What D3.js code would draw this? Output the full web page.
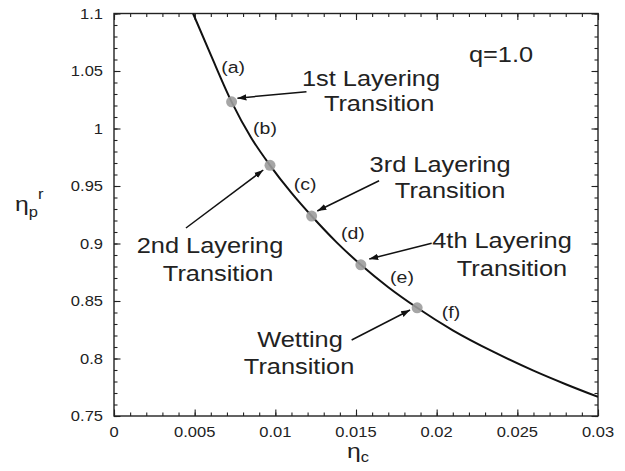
<!DOCTYPE html>
<html>
<head>
<meta charset="utf-8">
<script src="https://cdn.jsdelivr.net/npm/d3@7"></script>
<style>
  body { margin: 0; background: #fff; }
  text { font-family: "Liberation Sans", Arial, sans-serif; fill: #222; }
</style>
</head>
<body>
<div id="chart"></div>
<script>
// curve
var curveEtaC = [0.0049, 0.006, 0.00729, 0.0085, 0.00967, 0.011, 0.01225, 0.0138, 0.0153, 0.017, 0.01879, 0.021, 0.0235, 0.026, 0.028, 0.03];
var curveEtaP = [1.100, 1.064, 1.0232, 0.992, 0.968, 0.944, 0.9239, 0.901, 0.8815, 0.862, 0.8441, 0.8245, 0.8059, 0.7894, 0.7776, 0.7666];

// transition points
var dotEtaC = [0.00729, 0.00967, 0.01225, 0.0153, 0.01879];
var dotEtaP = [1.0232, 0.968, 0.9239, 0.8815, 0.8441];

// (a)..(f) labels
var letters = ["(a)", "(b)", "(c)", "(d)", "(e)", "(f)"];
var letterEtaC = [0.00738, 0.00936, 0.01184, 0.01481, 0.01785, 0.02089];
var letterEtaP = [1.0483, 0.9952, 0.9465, 0.9039, 0.8657, 0.8352];

// annotation texts (two lines each)
var noteLine1 = ["1st Layering", "2nd Layering", "3rd Layering", "4th Layering", "Wetting"];
var noteLine2 = ["Transition", "Transition", "Transition", "Transition", "Transition"];
var note1EtaC = [0.01593, 0.00595, 0.02021, 0.02405, 0.01153];
var note1EtaP = [1.0370, 0.8917, 0.9622, 0.8961, 0.8103];
var note2EtaC = [0.01643, 0.00645, 0.02083, 0.02467, 0.01147];
var note2EtaP = [1.0152, 0.8674, 0.9396, 0.8720, 0.7865];

// arrows: start -> tip
var arrowFromC = [0.01193, 0.00446, 0.01643, 0.01969, 0.01473];
var arrowFromP = [1.0320, 0.9135, 0.9546, 0.9002, 0.8161];
var arrowToC = [0.00765, 0.00925, 0.01260, 0.01582, 0.01835];
var arrowToP = [1.0264, 0.9639, 0.9283, 0.8865, 0.8422];

var xTicks = [0, 0.005, 0.01, 0.015, 0.02, 0.025, 0.03];
var xTickLabels = ["0", "0.005", "0.01", "0.015", "0.02", "0.025", "0.03"];
var yTicks = [0.75, 0.8, 0.85, 0.9, 0.95, 1, 1.05, 1.1];
var yTickLabels = ["0.75", "0.8", "0.85", "0.9", "0.95", "1", "1.05", "1.1"];

var W = 625, H = 471;
var SX = 1.18; // glyphs are a bit wide in the original

var x = d3.scaleLinear().domain([0, 0.03]).range([114, 598]);
var y = d3.scaleLinear().domain([0.75, 1.1]).range([416, 13.5]);

var svg = d3.select("#chart").append("svg")
  .attr("width", W).attr("height", H);

function wideText(g, str, px, py, size, anchor) {
  return g.append("text")
    .attr("transform", "translate(" + px + "," + py + ") scale(" + SX + ",1)")
    .attr("text-anchor", anchor || "middle")
    .attr("font-size", size)
    .text(str);
}

svg.append("defs").append("marker")
  .attr("id", "head")
  .attr("viewBox", "0 0 10 10")
  .attr("refX", 10).attr("refY", 5)
  .attr("markerWidth", 9).attr("markerHeight", 9)
  .attr("markerUnits", "userSpaceOnUse")
  .attr("orient", "auto")
  .append("path").attr("d", "M0,1.5 L10,5 L0,8.5 z").attr("fill", "#111");

svg.select("defs").append("clipPath").attr("id", "clip")
  .append("rect")
  .attr("x", x(0)).attr("y", y(1.1))
  .attr("width", x(0.03) - x(0)).attr("height", y(0.75) - y(1.1));

// minor ticks
var xMinor = d3.range(0, 31).map(function (i) { return i * 0.001; });
var yMinor = d3.range(0, 36).map(function (i) { return 0.75 + i * 0.01; });

function axisGroup(axis, tx, ty) {
  var g = svg.append("g").attr("transform", "translate(" + tx + "," + ty + ")").call(axis);
  g.select(".domain").remove();
  g.selectAll("text").remove();
  g.selectAll("line").attr("stroke", "#222").attr("stroke-width", 1.1);
  return g;
}
axisGroup(d3.axisBottom(x).tickValues(xMinor).tickSize(-3.5), 0, y(0.75));
axisGroup(d3.axisBottom(x).tickValues(xTicks).tickSize(-6.5), 0, y(0.75));
axisGroup(d3.axisTop(x).tickValues(xMinor).tickSize(-3.5), 0, y(1.1));
axisGroup(d3.axisTop(x).tickValues(xTicks).tickSize(-6.5), 0, y(1.1));
axisGroup(d3.axisLeft(y).tickValues(yMinor).tickSize(-3.5), x(0), 0);
axisGroup(d3.axisLeft(y).tickValues(yTicks).tickSize(-6.5), x(0), 0);
axisGroup(d3.axisRight(y).tickValues(yMinor).tickSize(-3.5), x(0.03), 0);
axisGroup(d3.axisRight(y).tickValues(yTicks).tickSize(-6.5), x(0.03), 0);

svg.append("rect")
  .attr("x", x(0)).attr("y", y(1.1))
  .attr("width", x(0.03) - x(0)).attr("height", y(0.75) - y(1.1))
  .attr("fill", "none").attr("stroke", "#222").attr("stroke-width", 1.4);

// tick labels
xTicks.forEach(function (v, i) {
  wideText(svg, xTickLabels[i], x(v), y(0.75) + 21, 14, "middle");
});
yTicks.forEach(function (v, i) {
  wideText(svg, yTickLabels[i], x(0) - 11, y(v) + 5, 14, "end");
});

// axis titles
var xt = svg.append("text")
  .attr("transform", "translate(" + (x(0.015) - 9) + "," + 458 + ") scale(" + SX + ",1)")
  .attr("font-size", 21);
xt.append("tspan").text("η");
xt.append("tspan").attr("font-size", 14).attr("dy", 4).text("c");

var yt = svg.append("text")
  .attr("transform", "translate(15,211) scale(" + SX + ",1)")
  .attr("font-size", 21);
yt.append("tspan").text("η");
yt.append("tspan").attr("font-size", 14).attr("dy", 6).text("p");
yt.append("tspan").attr("font-size", 14).attr("dy", -18).attr("dx", 0).text("r");

// curve
var line = d3.line()
  .x(function (d) { return x(d[0]); })
  .y(function (d) { return y(d[1]); })
  .curve(d3.curveMonotoneX);

svg.append("path")
  .datum(curveEtaC.map(function (c, i) { return [c, curveEtaP[i]]; }))
  .attr("clip-path", "url(#clip)")
  .attr("d", line)
  .attr("fill", "none").attr("stroke", "#111").attr("stroke-width", 2);

// dots
svg.selectAll("circle.dot")
  .data(dotEtaC)
  .enter().append("circle")
  .attr("class", "dot")
  .attr("cx", function (d) { return x(d); })
  .attr("cy", function (d, i) { return y(dotEtaP[i]); })
  .attr("r", 5.5)
  .attr("fill", "#9c9c9c").attr("fill-opacity", 0.9);

// letters
letters.forEach(function (s, i) {
  wideText(svg, s, x(letterEtaC[i]), y(letterEtaP[i]), 16.5, "middle");
});

// arrows
arrowFromC.forEach(function (c, i) {
  svg.append("line")
    .attr("x1", x(c)).attr("y1", y(arrowFromP[i]))
    .attr("x2", x(arrowToC[i])).attr("y2", y(arrowToP[i]))
    .attr("stroke", "#111").attr("stroke-width", 1.5)
    .attr("marker-end", "url(#head)");
});

// annotations
noteLine1.forEach(function (s, i) {
  wideText(svg, s, x(note1EtaC[i]), y(note1EtaP[i]), 21.5, "middle");
  wideText(svg, noteLine2[i], x(note2EtaC[i]), y(note2EtaP[i]), 21.5, "middle");
});

wideText(svg, "q=1.0", x(0.02399), y(1.0578), 21.5, "middle");
</script>
</body>
</html>
